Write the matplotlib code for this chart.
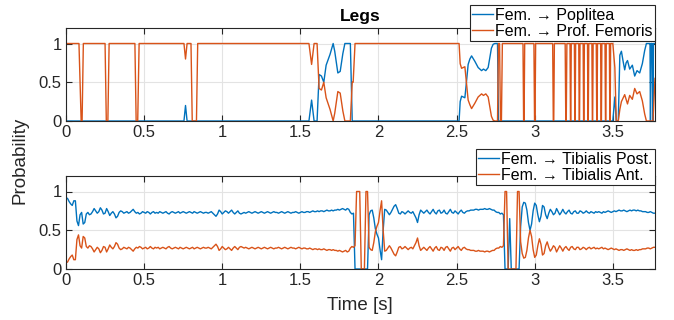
import numpy as np
import matplotlib
matplotlib.use("Agg")
import matplotlib.pyplot as plt

plt.rcParams['font.family'] = ['Liberation Sans', 'DejaVu Sans']
plt.rcParams['font.size'] = 11.5

BLUE = '#0072BD'
ORANGE = '#D95319'

# ---------------- top panel (Legs): Fem. -> Poplitea / Prof. Femoris ----------------
prof_t = [0.0, 0.083, 0.097, 0.103, 0.111,
          0.250, 0.258, 0.268, 0.276,
          0.441, 0.449, 0.459, 0.468,
          0.755, 0.765, 0.775,
          0.800, 0.808, 0.835, 0.843,
          1.555, 1.572, 1.588, 1.607, 1.620, 1.635, 1.650, 1.665, 1.690, 1.710,
          1.720, 1.740, 1.755, 1.772, 1.785, 1.820, 1.832, 1.838, 1.850,
          2.516, 2.523, 2.532, 2.553, 2.564, 2.574, 2.585, 2.596, 2.617, 2.638,
          2.660, 2.672, 2.687, 2.702, 2.713, 2.723, 2.734, 2.745,
          2.762, 2.768, 2.775, 2.781, 2.787, 2.793,
          2.925, 2.929, 2.932, 2.936,
          2.995, 2.999, 3.002, 3.006,
          3.115, 3.119, 3.122, 3.126,
          3.195, 3.199, 3.202, 3.206,
          3.226, 3.229, 3.231, 3.234,
          3.254, 3.257, 3.259, 3.262,
          3.282, 3.285, 3.287, 3.290,
          3.310, 3.313, 3.315, 3.318,
          3.338, 3.341, 3.343, 3.346,
          3.366, 3.369, 3.371, 3.374,
          3.394, 3.397, 3.399, 3.402,
          3.422, 3.425, 3.427, 3.430,
          3.450, 3.453, 3.455, 3.458,
          3.478, 3.481, 3.483, 3.486,
          3.500, 3.513, 3.522, 3.535, 3.545, 3.555, 3.576, 3.594, 3.608, 3.625,
          3.640, 3.655, 3.672, 3.689, 3.704, 3.715, 3.757, 3.770]
prof_v = [1.0, 1.0, 0.0, 0.0, 1.0,
          1.0, 0.0, 0.0, 1.0,
          1.0, 0.0, 0.0, 1.0,
          1.0, 0.80, 1.0,
          1.0, 0.0, 0.0, 1.0,
          1.0, 0.73, 1.0, 1.0, 0.42, 0.40, 0.50, 0.30, 0.15, 0.0,
          0.10, 0.38, 0.36, 0.13, 0.0, 0.0, 0.50, 0.50, 1.0,
          1.0, 0.74, 0.68, 0.70, 0.48, 0.27, 0.21, 0.16, 0.23, 0.31,
          0.35, 0.33, 0.35, 0.31, 0.18, 0.06, 0.01, 0.0,
          0.0, 1.0, 1.0, 0.0, 0.0, 1.0,
          1.0, 0.0, 0.0, 1.0,
          1.0, 0.0, 0.0, 1.0,
          1.0, 0.0, 0.0, 1.0,
          1.0, 0.0, 0.0, 1.0,
          1.0, 0.0, 0.0, 1.0,
          1.0, 0.0, 0.0, 1.0,
          1.0, 0.0, 0.0, 1.0,
          1.0, 0.0, 0.0, 1.0,
          1.0, 0.0, 0.0, 1.0,
          1.0, 0.0, 0.0, 1.0,
          1.0, 0.0, 0.0, 1.0,
          1.0, 0.0, 0.0, 1.0,
          1.0, 0.0, 0.0, 1.0,
          1.0, 0.0, 0.0, 1.0,
          1.0, 0.69, 0.0, 0.0, 0.15, 0.25, 0.34, 0.22, 0.33, 0.28,
          0.42, 0.35, 0.38, 0.26, 0.09, 0.0, 0.0, 0.55]

popl_t = [0.0, 0.755, 0.765, 0.775,
          1.555, 1.572, 1.588, 1.607, 1.620, 1.635, 1.650, 1.665, 1.690, 1.710,
          1.720, 1.740, 1.755, 1.772, 1.785, 1.820, 1.832,
          2.516, 2.523, 2.532, 2.553, 2.564, 2.574, 2.585, 2.596, 2.617, 2.638,
          2.660, 2.672, 2.687, 2.702, 2.713, 2.723, 2.734, 2.745, 2.762, 2.768,
          3.500, 3.513, 3.522, 3.535, 3.545, 3.555, 3.565, 3.576, 3.585, 3.594,
          3.608, 3.625, 3.640, 3.655, 3.672, 3.689, 3.704, 3.715, 3.738, 3.741,
          3.745, 3.752, 3.756, 3.760, 3.770]
popl_v = [0.0, 0.0, 0.20, 0.0,
          0.0, 0.27, 0.0, 0.0, 0.60, 0.58, 0.50, 0.72, 0.86, 1.0,
          0.90, 0.62, 0.64, 0.87, 1.0, 1.0, 0.0,
          0.0, 0.25, 0.32, 0.30, 0.52, 0.73, 0.80, 0.84, 0.77, 0.69,
          0.65, 0.67, 0.65, 0.69, 0.82, 0.94, 0.99, 1.0, 1.0, 0.0,
          0.0, 0.31, 0.0, 0.0, 0.85, 0.90, 0.78, 0.66, 0.75, 0.78,
          0.67, 0.72, 0.58, 0.65, 0.62, 0.74, 0.91, 1.0, 1.0, 0.0,
          1.0, 1.0, 0.0, 1.0, 1.0]

# ---------------- bottom panel: Fem. -> Tibialis Post. / Tibialis Ant. (dt = 0.01 s) ----------------
tib_post = [
    0.92, 0.91, 0.87, 0.84, 0.82, 0.88, 0.88, 0.62, 0.56, 0.70,
    0.73, 0.58, 0.60, 0.71, 0.73, 0.70, 0.71, 0.74, 0.78, 0.75,
    0.72, 0.74, 0.79, 0.76, 0.71, 0.72, 0.78, 0.74, 0.69, 0.72,
    0.74, 0.71, 0.66, 0.68, 0.73, 0.75, 0.74, 0.72, 0.73, 0.74,
    0.72, 0.73, 0.75, 0.77, 0.74, 0.72, 0.73, 0.71, 0.72, 0.74,
    0.73, 0.72, 0.74, 0.73, 0.71, 0.73, 0.74, 0.72, 0.73, 0.72,
    0.74, 0.73, 0.72, 0.73, 0.74, 0.72, 0.71, 0.73, 0.74, 0.73,
    0.72, 0.73, 0.74, 0.72, 0.73, 0.74, 0.73, 0.72, 0.73, 0.74,
    0.73, 0.72, 0.74, 0.73, 0.72, 0.73, 0.74, 0.73, 0.72, 0.73,
    0.73, 0.72, 0.73, 0.74, 0.72, 0.70, 0.68, 0.71, 0.76, 0.74,
    0.71, 0.73, 0.75, 0.74, 0.72, 0.74, 0.76, 0.73, 0.71, 0.73,
    0.75, 0.72, 0.71, 0.72, 0.73, 0.72, 0.73, 0.74, 0.73, 0.72,
    0.73, 0.74, 0.73, 0.72, 0.73, 0.74, 0.73, 0.72, 0.73, 0.74,
    0.73, 0.72, 0.73, 0.74, 0.73, 0.73, 0.72, 0.73, 0.74, 0.73,
    0.72, 0.73, 0.74, 0.73, 0.72, 0.73, 0.73, 0.74, 0.73, 0.72,
    0.73, 0.74, 0.73, 0.73, 0.74, 0.74, 0.73, 0.74, 0.75, 0.74,
    0.74, 0.75, 0.74, 0.75, 0.75, 0.74, 0.75, 0.76, 0.75, 0.75,
    0.76, 0.75, 0.76, 0.76, 0.77, 0.76, 0.77, 0.78, 0.77, 0.76,
    0.78, 0.77, 0.73, 0.71, 0.72, 0.00, 0.00, 0.00, 0.00, 0.00,
    0.00, 0.00, 0.00, 0.00, 0.70, 0.75, 0.76, 0.66, 0.52, 0.45,
    0.40, 0.25, 0.12, 0.50, 0.77, 0.76, 0.73, 0.70, 0.73, 0.77,
    0.81, 0.83, 0.78, 0.72, 0.71, 0.74, 0.73, 0.71, 0.73, 0.75,
    0.73, 0.72, 0.74, 0.70, 0.66, 0.60, 0.70, 0.76, 0.74, 0.72,
    0.74, 0.76, 0.73, 0.71, 0.74, 0.77, 0.73, 0.71, 0.75, 0.76,
    0.72, 0.73, 0.76, 0.72, 0.71, 0.74, 0.77, 0.73, 0.72, 0.75,
    0.73, 0.71, 0.74, 0.76, 0.73, 0.72, 0.74, 0.75, 0.75, 0.76,
    0.76, 0.76, 0.77, 0.77, 0.76, 0.77, 0.77, 0.77, 0.78, 0.77,
    0.77, 0.78, 0.77, 0.76, 0.76, 0.74, 0.73, 0.73, 0.71, 0.72,
    0.70, 0.00, 0.00, 0.00, 0.65, 0.00, 0.00, 0.00, 0.00, 0.00,
    0.00, 0.55, 0.80, 0.86, 0.85, 0.76, 0.60, 0.50, 0.58, 0.75,
    0.85, 0.82, 0.70, 0.61, 0.68, 0.82, 0.80, 0.70, 0.65, 0.72,
    0.77, 0.74, 0.70, 0.72, 0.78, 0.74, 0.70, 0.73, 0.77, 0.73,
    0.71, 0.74, 0.76, 0.72, 0.71, 0.74, 0.75, 0.72, 0.72, 0.75,
    0.74, 0.72, 0.73, 0.75, 0.73, 0.72, 0.74, 0.73, 0.72, 0.74,
    0.73, 0.74, 0.73, 0.72, 0.74, 0.73, 0.74, 0.75, 0.74, 0.73,
    0.74, 0.75, 0.74, 0.75, 0.76, 0.75, 0.75, 0.76, 0.75, 0.74,
    0.75, 0.76, 0.75, 0.76, 0.76, 0.75, 0.76, 0.75, 0.75, 0.74,
    0.74, 0.74, 0.73, 0.73, 0.74, 0.73, 0.72, 0.72]

tib_ant = [
    0.08, 0.09, 0.13, 0.16, 0.18, 0.12, 0.12, 0.38, 0.44, 0.30,
    0.27, 0.42, 0.40, 0.29, 0.27, 0.30, 0.29, 0.26, 0.22, 0.25,
    0.28, 0.26, 0.21, 0.24, 0.29, 0.28, 0.22, 0.26, 0.31, 0.28,
    0.26, 0.29, 0.34, 0.32, 0.27, 0.25, 0.26, 0.28, 0.27, 0.26,
    0.28, 0.27, 0.25, 0.23, 0.26, 0.28, 0.27, 0.29, 0.28, 0.26,
    0.27, 0.28, 0.26, 0.27, 0.29, 0.27, 0.26, 0.28, 0.27, 0.28,
    0.26, 0.27, 0.28, 0.27, 0.26, 0.28, 0.29, 0.27, 0.26, 0.27,
    0.28, 0.27, 0.26, 0.28, 0.27, 0.26, 0.27, 0.28, 0.27, 0.26,
    0.27, 0.28, 0.26, 0.27, 0.28, 0.27, 0.26, 0.27, 0.28, 0.27,
    0.27, 0.28, 0.27, 0.26, 0.28, 0.30, 0.32, 0.29, 0.24, 0.26,
    0.29, 0.27, 0.25, 0.26, 0.28, 0.26, 0.24, 0.27, 0.29, 0.27,
    0.25, 0.28, 0.29, 0.28, 0.27, 0.28, 0.27, 0.26, 0.27, 0.28,
    0.27, 0.26, 0.27, 0.28, 0.27, 0.26, 0.27, 0.28, 0.27, 0.26,
    0.27, 0.28, 0.27, 0.26, 0.27, 0.27, 0.28, 0.27, 0.26, 0.27,
    0.28, 0.27, 0.26, 0.27, 0.28, 0.27, 0.27, 0.26, 0.27, 0.28,
    0.27, 0.26, 0.27, 0.27, 0.26, 0.26, 0.27, 0.26, 0.25, 0.26,
    0.26, 0.25, 0.26, 0.25, 0.25, 0.26, 0.25, 0.24, 0.25, 0.25,
    0.24, 0.25, 0.24, 0.24, 0.23, 0.24, 0.23, 0.22, 0.23, 0.24,
    0.22, 0.23, 0.27, 0.29, 0.28, 0.30, 1.00, 1.00, 1.00, 0.00,
    0.00, 0.00, 1.00, 1.00, 0.28, 0.25, 0.24, 0.34, 0.48, 0.55,
    0.60, 0.75, 0.88, 0.50, 0.23, 0.24, 0.27, 0.30, 0.27, 0.23,
    0.19, 0.17, 0.22, 0.28, 0.29, 0.26, 0.27, 0.29, 0.27, 0.25,
    0.27, 0.28, 0.26, 0.30, 0.34, 0.40, 0.30, 0.24, 0.26, 0.28,
    0.26, 0.24, 0.27, 0.29, 0.26, 0.23, 0.27, 0.29, 0.25, 0.24,
    0.28, 0.27, 0.24, 0.28, 0.29, 0.26, 0.23, 0.27, 0.28, 0.25,
    0.27, 0.29, 0.26, 0.24, 0.27, 0.28, 0.26, 0.25, 0.25, 0.24,
    0.24, 0.24, 0.23, 0.23, 0.24, 0.23, 0.23, 0.23, 0.22, 0.23,
    0.23, 0.22, 0.23, 0.24, 0.24, 0.26, 0.27, 0.27, 0.29, 0.28,
    0.30, 1.00, 1.00, 0.00, 0.00, 0.00, 0.00, 0.00, 0.00, 1.00,
    1.00, 0.35, 0.20, 0.14, 0.15, 0.24, 0.40, 0.50, 0.42, 0.25,
    0.15, 0.18, 0.30, 0.39, 0.32, 0.18, 0.20, 0.30, 0.35, 0.28,
    0.23, 0.26, 0.30, 0.28, 0.22, 0.26, 0.30, 0.27, 0.23, 0.27,
    0.29, 0.26, 0.24, 0.28, 0.29, 0.26, 0.25, 0.28, 0.28, 0.25,
    0.26, 0.28, 0.27, 0.25, 0.27, 0.28, 0.26, 0.27, 0.28, 0.26,
    0.27, 0.26, 0.27, 0.28, 0.26, 0.27, 0.26, 0.25, 0.26, 0.27,
    0.26, 0.25, 0.26, 0.25, 0.24, 0.25, 0.25, 0.24, 0.25, 0.26,
    0.25, 0.24, 0.25, 0.24, 0.24, 0.25, 0.24, 0.25, 0.25, 0.26,
    0.26, 0.26, 0.27, 0.27, 0.26, 0.27, 0.28, 0.28]

t_bottom = np.arange(len(tib_post)) * 0.01

x_ticks = [0, 0.5, 1, 1.5, 2, 2.5, 3, 3.5]
x_ticklabels = ['0', '0.5', '1', '1.5', '2', '2.5', '3', '3.5']
y_ticks = [0, 0.5, 1]
y_ticklabels = ['0', '0.5', '1']

W, H = 674, 320
fig = plt.figure(figsize=(W / 100, H / 100), dpi=100)

ax1 = fig.add_axes([66 / W, 1 - 121 / H, 589 / W, 93 / H])
ax2 = fig.add_axes([66 / W, 1 - 269 / H, 589 / W, 93 / H])

ax1.plot(popl_t, popl_v, color=BLUE, lw=1.0, label='Fem. → Poplitea')
ax1.plot(prof_t, prof_v, color=ORANGE, lw=1.0, label='Fem. → Prof. Femoris')
ax2.plot(t_bottom, tib_post, color=BLUE, lw=1.0, label='Fem. → Tibialis Post.')
ax2.plot(t_bottom, tib_ant, color=ORANGE, lw=1.0, label='Fem. → Tibialis Ant.')

for ax in (ax1, ax2):
    ax.set_xlim(0, 3.77)
    ax.set_ylim(0, 1.2)
    ax.set_xticks(x_ticks)
    ax.set_xticklabels(x_ticklabels)
    ax.set_yticks(y_ticks)
    ax.set_yticklabels(y_ticklabels)
    ax.grid(True, color='#e3e3e3', lw=0.8)
    ax.set_axisbelow(True)
    ax.tick_params(direction='in', length=4, width=0.8, top=True, right=True,
                   colors='#262626', labelcolor='#262626', pad=3, labelsize=12)
    for s in ax.spines.values():
        s.set_color('#262626')
        s.set_linewidth(0.8)

leg1 = ax1.legend(loc='lower right', bbox_to_anchor=(1.0, (121 - 41) / 93),
                  frameon=True, fancybox=False, framealpha=1, edgecolor='#262626',
                  handlelength=1.3, handletextpad=0.15, borderpad=0.15,
                  labelspacing=0.05, borderaxespad=0)
leg1.get_frame().set_linewidth(0.8)
leg1.set_zorder(10)

leg2 = ax2.legend(loc='lower right', bbox_to_anchor=(1.0, (269 - 185) / 93),
                  frameon=True, fancybox=False, framealpha=1, edgecolor='#262626',
                  handlelength=1.3, handletextpad=0.15, borderpad=0.15,
                  labelspacing=0.05, borderaxespad=0)
leg2.get_frame().set_linewidth(0.8)
leg2.set_zorder(10)

fig.text(360 / W, 1 - 16 / H, 'Legs', ha='center', va='center', weight='bold',
         color='black', fontsize=12.5)
fig.text(20 / W, 1 - 160 / H, 'Probability', ha='center', va='center', rotation=90,
         color='#262626', fontsize=13.5)
fig.text(360 / W, 1 - 305 / H, 'Time [s]', ha='center', va='center',
         color='#262626', fontsize=13.5)

fig.savefig('out.png', dpi=100)
